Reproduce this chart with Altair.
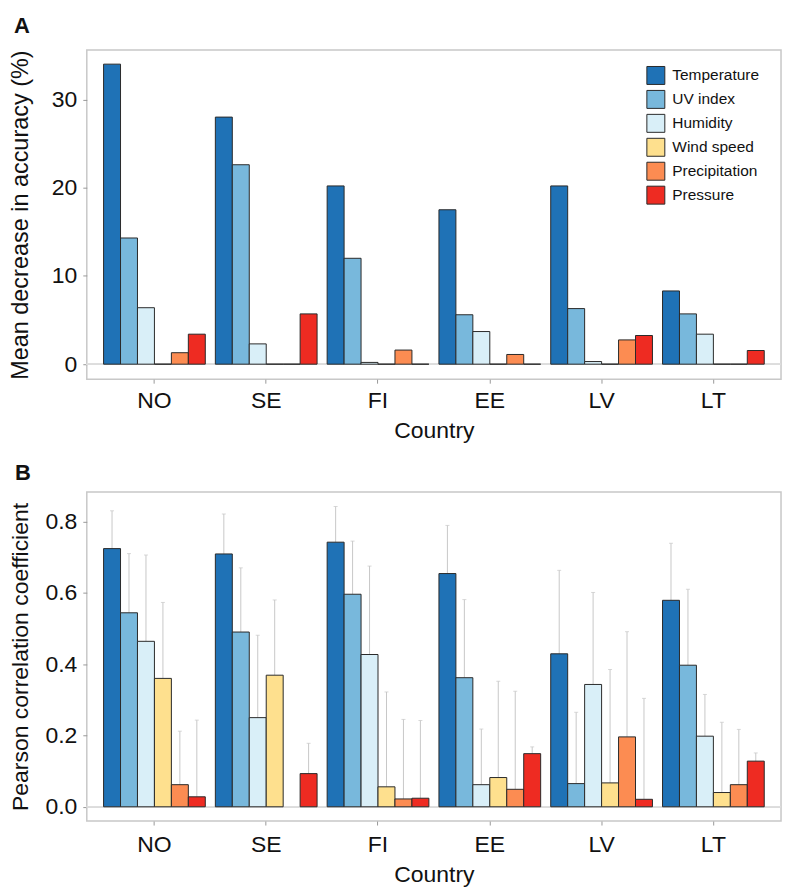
import altair as alt
import pandas as pd

countries = ["NO", "SE", "FI", "EE", "LV", "LT"]
variables = ["Temperature", "UV index", "Humidity", "Wind speed", "Precipitation", "Pressure"]
colors = ["#1f72b6", "#78b8dc", "#d9eff8", "#fee08e", "#fc8c52", "#ee2b22"]

# Panel A: mean decrease in accuracy (%)
temp_a = [34.0, 28.0, 20.2, 17.5, 20.2, 8.3]
uv_a = [14.3, 22.6, 12.0, 5.6, 6.3, 5.7]
hum_a = [6.4, 2.3, 0.2, 3.7, 0.3, 3.4]
wind_a = [0.0, 0.0, 0.0, 0.0, 0.0, 0.0]
precip_a = [1.3, 0.0, 1.6, 1.1, 2.75, 0.0]
press_a = [3.4, 5.7, 0.0, 0.0, 3.25, 1.55]

# Panel B: Pearson correlation coefficient (value and upper error)
temp_b = [0.724, 0.709, 0.742, 0.654, 0.429, 0.579]
uv_b = [0.544, 0.490, 0.596, 0.362, 0.065, 0.397]
hum_b = [0.464, 0.250, 0.427, 0.062, 0.343, 0.198]
wind_b = [0.360, 0.369, 0.056, 0.082, 0.067, 0.040]
precip_b = [0.062, None, 0.022, 0.049, 0.196, 0.062]
press_b = [0.028, 0.093, 0.024, 0.149, 0.021, 0.128]

temp_hi = [0.830, 0.821, 0.842, 0.789, 0.663, 0.739]
uv_hi = [0.710, 0.670, 0.745, 0.581, 0.265, 0.610]
hum_hi = [0.706, 0.481, 0.675, 0.218, 0.601, 0.315]
wind_hi = [0.573, 0.580, 0.322, 0.352, 0.385, 0.237]
precip_hi = [0.212, None, 0.245, 0.324, 0.491, 0.217]
press_hi = [0.243, 0.178, 0.242, 0.168, 0.304, 0.151]

series_a = [temp_a, uv_a, hum_a, wind_a, precip_a, press_a]
series_b = [temp_b, uv_b, hum_b, wind_b, precip_b, press_b]
series_hi = [temp_hi, uv_hi, hum_hi, wind_hi, precip_hi, press_hi]

rows_a = []
rows_b = []
for i, c in enumerate(countries):
    for v, sa, sb, sh in zip(variables, series_a, series_b, series_hi):
        rows_a.append({"Country": c, "Variable": v, "value": sa[i]})
        if sb[i] is not None:
            rows_b.append({"Country": c, "Variable": v, "value": sb[i], "hi": sh[i]})
df_a = pd.DataFrame(rows_a)
df_b = pd.DataFrame(rows_b)

FONT = "Liberation Sans"
xscale = alt.Scale(domain=countries, paddingInner=0.09, paddingOuter=0.15)
offscale = alt.Scale(domain=variables)
cscale = alt.Scale(domain=variables, range=colors)

def xaxis(pad):
    return alt.Axis(labelAngle=0, labelFontSize=23, titleFontSize=23, tickSize=4,
                    labelPadding=pad, titlePadding=7, domain=False, tickColor="#999999")

# ---- Panel A ----
ya = alt.Y("value:Q", title="Mean decrease in accuracy (%)",
           scale=alt.Scale(domain=[-1.7, 35.6], nice=False, zero=False),
           axis=alt.Axis(values=[0, 10, 20, 30], labelFontSize=23, titleFontSize=23.5,
                         tickSize=4, labelPadding=6, titlePadding=10, minExtent=44,
                         maxExtent=44, domain=False, grid=False, tickColor="#999999"))

base_a = alt.Chart(df_a)
zero_a = base_a.mark_rule(color="#dddddd", strokeWidth=1).encode(y=alt.datum(0))
bars_a = base_a.mark_bar(stroke="#2a2a2a", strokeWidth=1).encode(
    x=alt.X("Country:N", sort=countries, scale=xscale, title="Country", axis=xaxis(6)),
    xOffset=alt.XOffset("Variable:N", sort=variables, scale=offscale),
    y=ya,
    y2=alt.datum(0),
    color=alt.Color("Variable:N", scale=cscale, sort=variables,
                    legend=alt.Legend(title=None, orient="none", legendX=561, legendY=16,
                                      symbolType="square", symbolSize=324,
                                      symbolStrokeColor="#2a2a2a", symbolStrokeWidth=1,
                                      symbolOpacity=1, labelFontSize=15.5, labelOffset=7,
                                      rowPadding=1, padding=0, labelColor="#111111",
                                      labelFont=FONT)),
)
chart_a = alt.layer(zero_a, bars_a).properties(
    width=696, height=330,
    title=alt.TitleParams("A", anchor="start", fontSize=22, fontWeight="bold",
                          offset=12, dx=5, font=FONT),
)

# ---- Panel B ----
yb_scale = alt.Scale(domain=[-0.04, 0.883], nice=False, zero=False)
yb_axis = alt.Axis(values=[0, 0.2, 0.4, 0.6, 0.8], format=".1f", labelFontSize=23,
                   titleFontSize=23, tickSize=4, labelPadding=6, titlePadding=10,
                   minExtent=44, maxExtent=44, domain=False, grid=False,
                   tickColor="#999999")
xb = alt.X("Country:N", sort=countries, scale=xscale, title="Country", axis=xaxis(9))
offb = alt.XOffset("Variable:N", sort=variables, scale=offscale)

base_b = alt.Chart(df_b)
zero_b = base_b.mark_rule(color="#dddddd", strokeWidth=1).encode(y=alt.datum(0))
err_b = base_b.mark_rule(color="#c8c8c8", strokeWidth=1).encode(
    x=xb, xOffset=offb,
    y=alt.Y("value:Q", scale=yb_scale, axis=yb_axis, title="Pearson correlation coefficient"),
    y2="hi:Q",
)
cap_b = base_b.mark_tick(color="#c8c8c8", size=4, thickness=1).encode(
    x=xb, xOffset=offb, y=alt.Y("hi:Q", scale=yb_scale),
)
bars_b = base_b.mark_bar(stroke="#2a2a2a", strokeWidth=1).encode(
    x=xb, xOffset=offb,
    y=alt.Y("value:Q", scale=yb_scale, axis=yb_axis, title="Pearson correlation coefficient"),
    y2=alt.datum(0),
    color=alt.Color("Variable:N", scale=cscale, legend=None),
)
chart_b = alt.layer(zero_b, err_b, cap_b, bars_b).properties(
    width=696, height=330,
    title=alt.TitleParams("B", anchor="start", fontSize=22, fontWeight="bold",
                          offset=7, dx=5, font=FONT),
)

chart = alt.vconcat(chart_a, chart_b, spacing=18).resolve_scale(
    color="shared"
).properties(
    padding={"left": 0, "top": 5, "right": 5, "bottom": 5}
).configure_view(
    stroke="#c8c8c8", strokeWidth=1.5
).configure_axis(
    labelFont=FONT, titleFont=FONT, labelColor="#111111", titleColor="#111111",
    titleFontWeight="normal"
).configure_title(color="#111111")

chart.save("out.html", embed_options={"renderer": "svg", "actions": False})
